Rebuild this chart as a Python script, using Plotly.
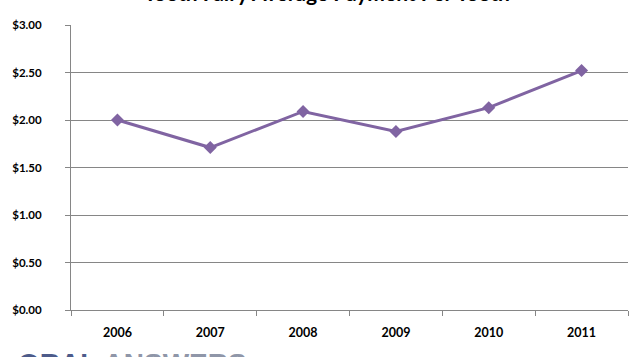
import plotly.graph_objects as go

years = ["2006", "2007", "2008", "2009", "2010", "2011"]
payment = [2.00, 1.71, 2.09, 1.88, 2.13, 2.52]
y_ticks = [0, 0.5, 1.0, 1.5, 2.0, 2.5, 3.0]
y_tick_labels = ["$0.00", "$0.50", "$1.00", "$1.50", "$2.00", "$2.50", "$3.00"]
title_text = "Tooth Fairy Average Payment Per Tooth"

fig = go.Figure()
fig.add_trace(go.Scatter(
    x=years, y=payment, mode="lines+markers",
    line=dict(color="#8064A2", width=3),
    marker=dict(symbol="diamond", size=10, color="#8064A2"),
    showlegend=False,
))

font_main = "Lato, Carlito, Calibri, sans-serif"

fig.update_layout(
    width=644, height=357,
    margin=dict(l=71, r=16, t=25, b=47),
    paper_bgcolor="white", plot_bgcolor="white",
    xaxis=dict(
        type="category", showgrid=False, showline=True, linecolor="#868686", linewidth=1,
        ticks="outside", tickson="boundaries", ticklen=5, tickcolor="#868686",
        tickfont=dict(family=font_main, size=12.5, color="black", weight="bold"),
        ticklabelstandoff=11,
        range=[-0.5, 5.5],
    ),
    yaxis=dict(
        range=[0, 3], tickvals=y_ticks, ticktext=y_tick_labels,
        showgrid=True, gridcolor="#868686", gridwidth=1,
        showline=True, linecolor="#868686", linewidth=1,
        ticks="outside", ticklen=5, tickcolor="#868686",
        tickfont=dict(family=font_main, size=11.5, color="black", weight="bold"),
        ticklabelstandoff=21,
        zeroline=False,
    ),
    annotations=[
        dict(text="<b>" + title_text + "</b>", xref="paper", yref="paper", x=0.46, y=1,
             xanchor="center", yanchor="bottom", yshift=18, showarrow=False,
             font=dict(family=font_main, size=21, color="black")),
        dict(text="<b><span style='color:#4d5b8a'>ORAL</span> <span style='color:#8f96a8'>ANSWERS</span></b>",
             xref="paper", yref="paper", x=-0.098, y=0, xanchor="left", yanchor="top",
             yshift=-36, showarrow=False,
             font=dict(family="Liberation Sans, Arial, sans-serif", size=28)),
    ],
)

fig.write_html("out.html", config={"displayModeBar": False},
               post_script="document.body.style.margin='0';")
